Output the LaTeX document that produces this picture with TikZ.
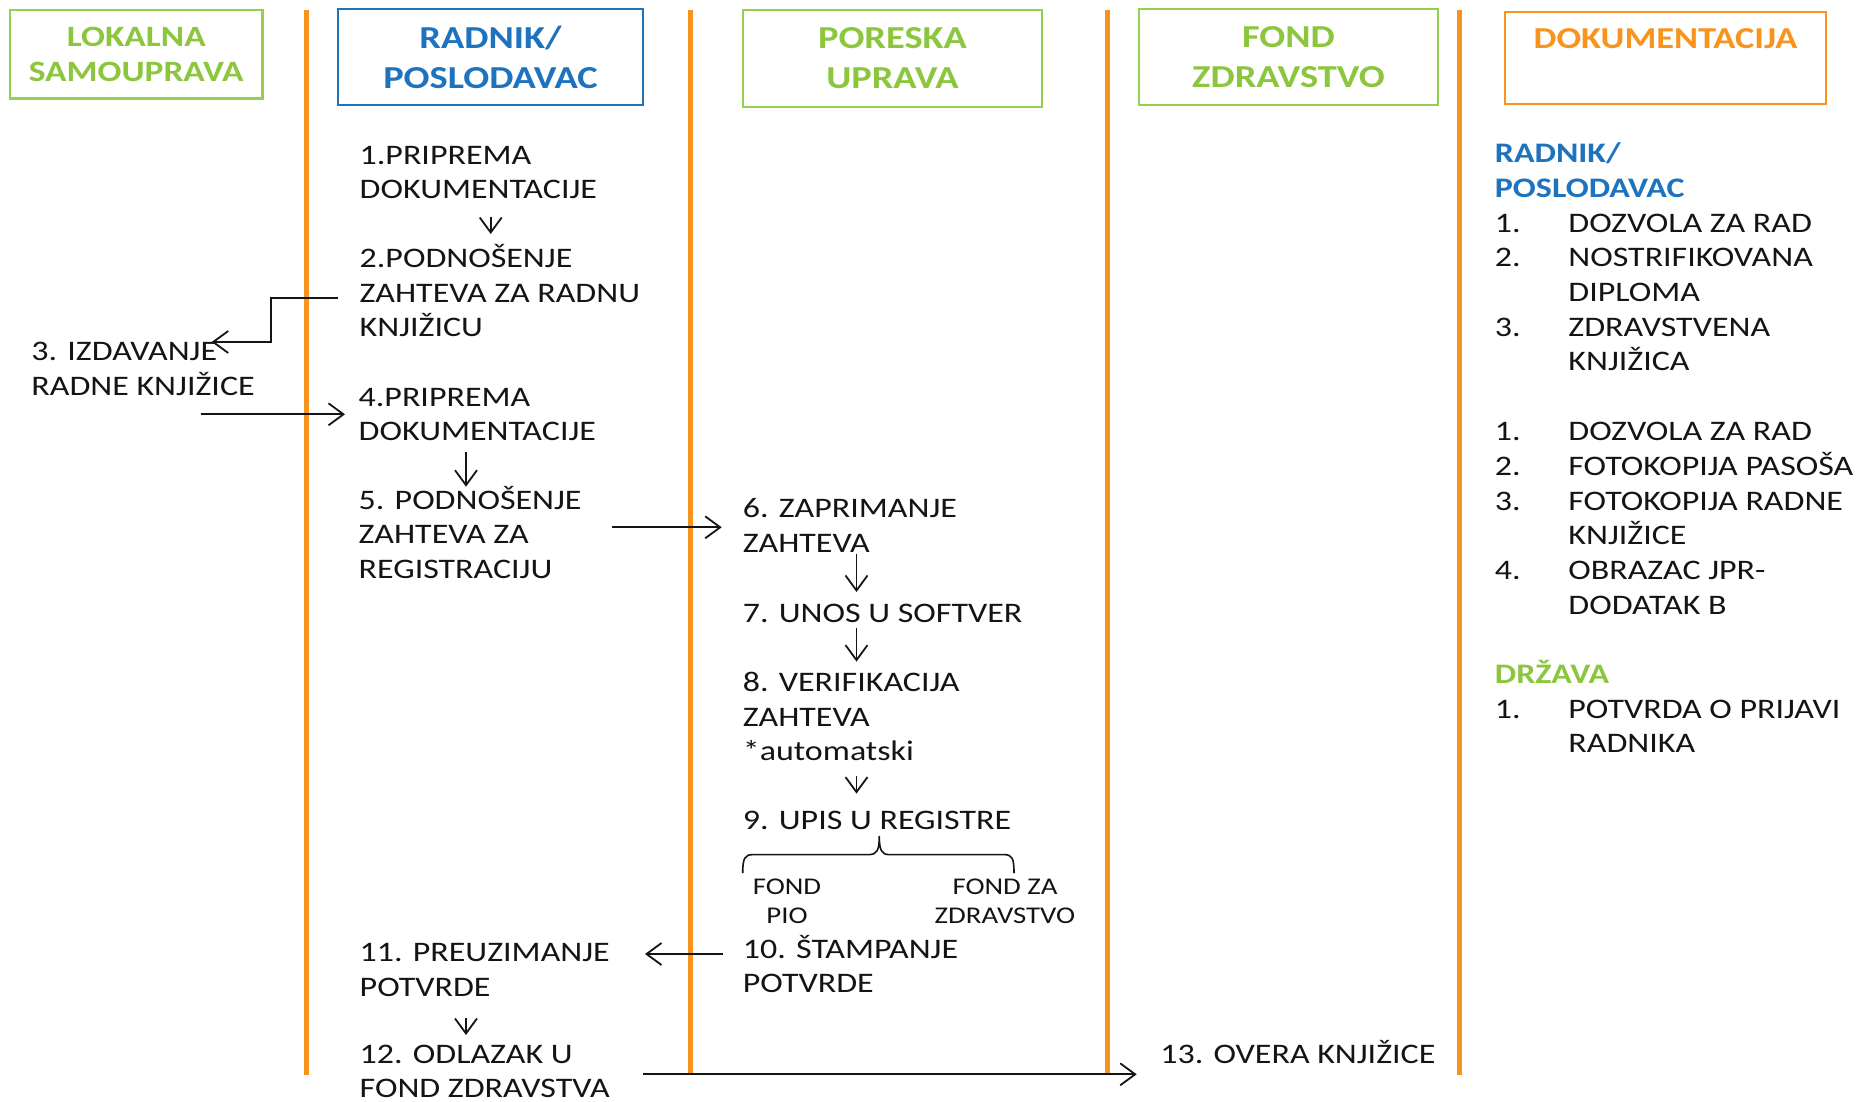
\documentclass[tikz,border=0pt]{standalone}
\usepackage{fontspec}
\setmainfont{Carlito}[FakeStretch=1.2]
\usetikzlibrary{arrows.meta}
\definecolor{lane}{RGB}{247,148,30}
\definecolor{grn}{RGB}{146,208,80}
\definecolor{grntxt}{RGB}{140,198,63}
\definecolor{blu}{RGB}{30,115,190}
\definecolor{ink}{RGB}{20,20,20}
\newcommand{\docnum}[1]{\makebox[36.75pt][l]{#1}}
\newcommand{\docind}{\hspace*{36.75pt}}
\newcommand{\mlL}[1]{\begin{tabular}[t]{@{}l@{}}#1\end{tabular}}
\newcommand{\mlC}[1]{\begin{tabular}[t]{@{}c@{}}#1\end{tabular}}
\begin{document}
\begin{tikzpicture}[x=0.5pt,y=-0.5pt,
  body/.style={inner sep=0pt, anchor=base west, text=ink, font=\fontsize{14.15}{17.3}\selectfont},
  doc/.style={inner sep=0pt, anchor=base west, text=ink, font=\fontsize{14.15}{17.35}\selectfont},
  small/.style={inner sep=0pt, anchor=base, text=ink, font=\fontsize{12}{14.1}\selectfont},
  hdr/.style={draw, line width=1.2pt, inner sep=0pt, align=center, font=\bfseries\fontsize{16}{20}\selectfont},
  arr/.style={draw=ink, line width=0.9pt, -{Straight Barb[length=7.5pt,width=11pt]}},
  lanes/.style={draw=lane, line width=2.5pt}]
\useasboundingbox (0,0) rectangle (1863,1102);
\fill[white] (0,0) rectangle (1863,1102);

% lane separators
\draw[lanes] (306.5,10) -- (306.5,1075);
\draw[lanes] (690,10) -- (690,1075);
\draw[lanes] (1107,10) -- (1107,1075);
\draw[lanes] (1459,10) -- (1459,1075);

% headers
\node[hdr, draw=grn, text=grntxt, minimum width=126.25pt, minimum height=44.3pt,
  font=\bfseries\fontsize{14.75}{17.5}\selectfont] (hLok) at (136.25,54.3) {LOKALNA\\SAMOUPRAVA};
\node[hdr, draw=blu, text=blu, minimum width=152.5pt, minimum height=48pt] (hRad) at (490.5,57) {RADNIK/\\POSLODAVAC};
\node[hdr, draw=grn, text=grntxt, minimum width=149.5pt, minimum height=48.5pt] (hPor) at (892.5,58.5) {PORESKA\\UPRAVA};
\node[hdr, draw=grn, text=grntxt, minimum width=149.5pt, minimum height=48pt] (hFond) at (1288.5,57) {FOND\\ZDRAVSTVO};
\node[hdr, draw=lane, text=lane, minimum width=160.5pt, minimum height=46pt,
  font=\bfseries\fontsize{15.2}{19}\selectfont, text height=12pt, text depth=21.7pt] (hDok) at (1665.5,58) {DOKUMENTACIJA};

% steps
\node[body] (s1) at (359.3,164.3) {\mlL{1.PRIPREMA\\DOKUMENTACIJE}};
\node[body] (s2) at (359.3,267.7) {\mlL{2.PODNOŠENJE\\ZAHTEVA ZA RADNU\\KNJIŽICU}};
\node[body] (s3) at (31,360.7) {\mlL{3. IZDAVANJE\\RADNE KNJIŽICE}};
\node[body] (s4) at (358.3,406) {\mlL{4.PRIPREMA\\DOKUMENTACIJE}};
\node[body] (s5) at (358.3,509.3) {\mlL{5. PODNOŠENJE\\ZAHTEVA ZA\\REGISTRACIJU}};
\node[body] (s6) at (742.5,517.6) {\mlL{6. ZAPRIMANJE\\ZAHTEVA}};
\node[body] (s7) at (742.5,622.2) {7. UNOS U SOFTVER};
\node[body] (s8) at (742.5,691.5) {\mlL{8. VERIFIKACIJA\\ZAHTEVA\\{}*automatski}};
\node[body] (s9) at (742.5,829.7) {9. UPIS U REGISTRE};
\node[small] (fpio) at (787,894.8) {\mlC{FOND\\PIO}};
\node[small] (fzdr) at (1005,894.8) {\mlC{FOND ZA\\ZDRAVSTVO}};
\node[body] (s10) at (742.5,958.3) {\mlL{10. ŠTAMPANJE\\POTVRDE}};
\node[body] (s11) at (359.3,961.7) {\mlL{11. PREUZIMANJE\\POTVRDE}};
\node[body] (s12) at (359.3,1063.3) {\mlL{12. ODLAZAK U\\FOND ZDRAVSTVA}};
\node[body] (s13) at (1160,1063.3) {13. OVERA KNJIŽICE};

% documentation
\node[doc] (docA) at (1494.5,162.7) {\mlL{{\bfseries\color{blu}RADNIK/}\\{\bfseries\color{blu}POSLODAVAC}\\
  \docnum{1.}DOZVOLA ZA RAD\\\docnum{2.}NOSTRIFIKOVANA\\\docind DIPLOMA\\\docnum{3.}ZDRAVSTVENA\\\docind KNJIŽICA}};
\node[doc] (docB) at (1494.5,440.7) {\mlL{\docnum{1.}DOZVOLA ZA RAD\\\docnum{2.}FOTOKOPIJA PASOŠA\\\docnum{3.}FOTOKOPIJA RADNE\\\docind KNJIŽICE\\\docnum{4.}OBRAZAC JPR-\\\docind DODATAK B}};
\node[doc] (docC) at (1494.5,683.5) {\mlL{{\bfseries\color{grntxt}DRŽAVA}\\\docnum{1.}POTVRDA O PRIJAVI\\\docind RADNIKA}};

% brace under step 9
\draw[draw=ink, line width=0.8pt] (742.7,873) .. controls (742.7,858) and (745,854.6) .. (753,854.6)
  -- (869,854.6) .. controls (877,854.6) and (879.3,850) .. (879.3,836)
  .. controls (879.3,850) and (881.6,854.6) .. (889,854.6)
  -- (1004,854.6) .. controls (1012,854.6) and (1014,858) .. (1014,873);

% connectors
\draw[arr] ([shift={(131.4,53)}]s1.base west) -- ([shift={(131.4,-33.7)}]s2.base west);
\draw[arr] ([shift={(-21.3,30)}]s2.base west) -- ++(-67,0) |- ([shift={(180.7,-18.7)}]s3.base west);
\draw[arr] ([shift={(169.7,53.6)}]s3.base west) -- ([shift={(-13.3,8.3)}]s4.base west);
\draw[arr] ([shift={(107.7,45.7)}]s4.base west) -- ([shift={(107.7,-22.6)}]s5.base west);
\draw[arr] ([shift={(253.4,18)}]s5.base west) -- ([shift={(-20.8,9.7)}]s6.base west);
\draw[arr] ([shift={(114,36.1)}]s6.base west) -- ([shift={(114,-30.2)}]s7.base west);
\draw[arr] ([shift={(114,5.4)}]s7.base west) -- ([shift={(114,-29.9)}]s8.base west);
\draw[arr] ([shift={(114,84.2)}]s8.base west) -- ([shift={(114,-36.1)}]s9.base west);
\draw[arr] ([shift={(-19.8,-4.3)}]s10.base west) -- ([shift={(285.7,-7.7)}]s11.base west);
\draw[arr] ([shift={(106.7,56.6)}]s11.base west) -- ([shift={(106.7,-28.3)}]s12.base west);
\draw[arr] ([shift={(284,11)}]s12.base west) -- ([shift={(-23.3,11)}]s13.base west);
\end{tikzpicture}
\end{document}
